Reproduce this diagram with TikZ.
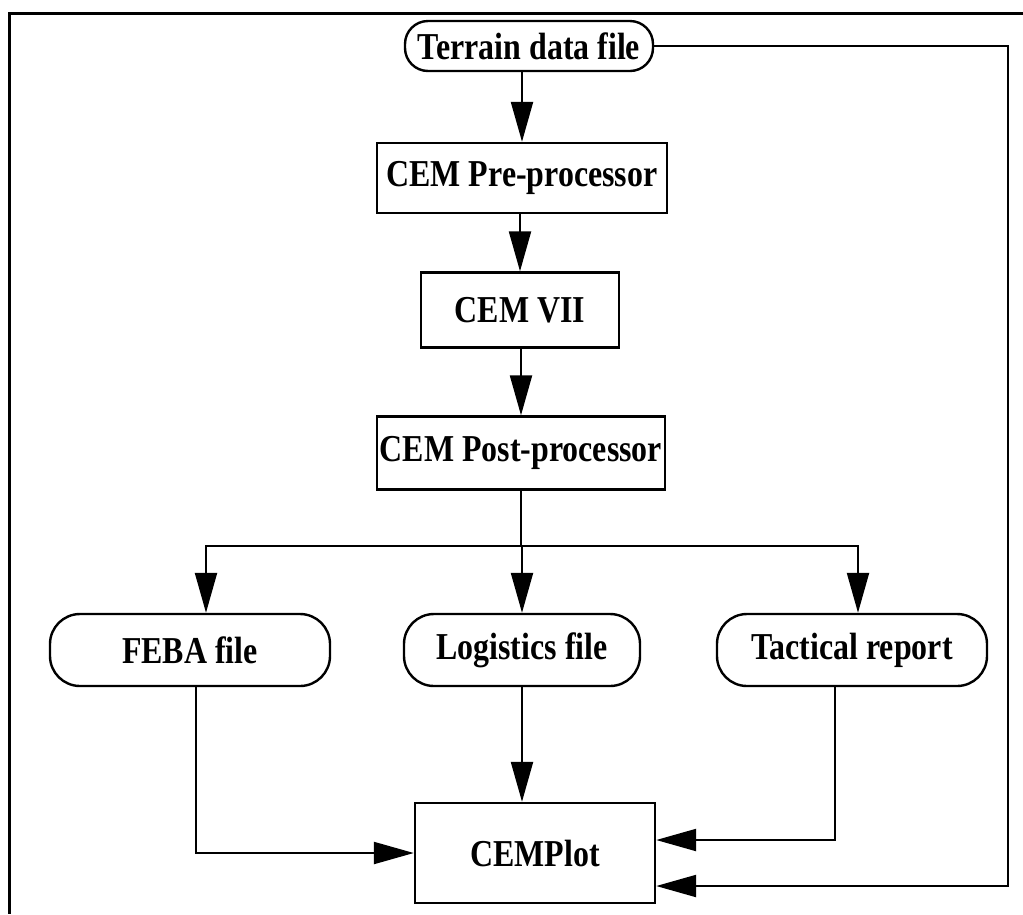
\documentclass[tikz,border=0pt]{standalone}
\usepackage{fontspec}
\setmainfont{Liberation Serif}[FakeStretch=0.84]
\usetikzlibrary{arrows.meta}
\begin{document}
\begin{tikzpicture}[x=1pt,y=-1pt,
  font=\fontsize{38}{42}\selectfont\bfseries,
  box/.style={draw,line width=2.4pt,inner sep=0pt,align=center},
  filebox/.style={box,rounded corners=30pt},
  link/.style={line width=2.2pt},
  arr/.style={link,-{Triangle[length=40pt,width=22pt]}}]
\useasboundingbox (0,0) rectangle (1023,914);
% frame remnants (top and left edges)
\draw[line width=3pt] (1023,13) -- (9,13) -- (9,914);

% main processing chain
\node[filebox,rounded corners=23pt,minimum width=248pt,minimum height=50pt] (terrain) at (529,46) {Terrain data file};
\node[box,minimum width=290pt,minimum height=70pt] (pre) at (522,178) {CEM Pre-processor};
\node[box,minimum width=198pt,minimum height=75pt] (cem) at (520,310) {CEM VII};
\node[box,minimum width=288pt,minimum height=73pt] (post) at (521,453) {CEM Post-processor};

% output files
\node[filebox,minimum width=280pt,minimum height=72pt] (feba) at (190,650) {FEBA file};
\node[filebox,minimum width=236pt,minimum height=72pt] (logi) at (522,650) {Logistics file};
\node[filebox,minimum width=270pt,minimum height=72pt] (tact) at (852,650) {Tactical report};

% plotting program
\node[box,minimum width=240pt,minimum height=100pt] (plot) at (535,853) {CEMPlot};

\coordinate (split) at (521,546);
\coordinate (fcorner) at (1008,886);

\draw[arr] (terrain.south -| pre.north) -- (pre.north);
\draw[arr] (pre.south -| cem.north) -- (cem.north);
\draw[arr] (cem.south -| post.north) -- (post.north);

\draw[link] (post.south) -- (split);
\draw[arr] (split) -| ([xshift=16pt]feba.north);
\draw[arr] (split) -- (split -| logi.north) -- (logi.north);
\draw[arr] (split) -| ([xshift=6pt]tact.north);

\draw[arr] ([xshift=6pt]feba.south) |- (plot.west);
\draw[arr] (logi.south) -- (logi.south |- plot.north);
\draw[arr] ([xshift=-17pt]tact.south) |- ([yshift=13pt]plot.east);
\draw[arr] (terrain.east) -| (fcorner) -- (fcorner -| plot.east);
\end{tikzpicture}
\end{document}
